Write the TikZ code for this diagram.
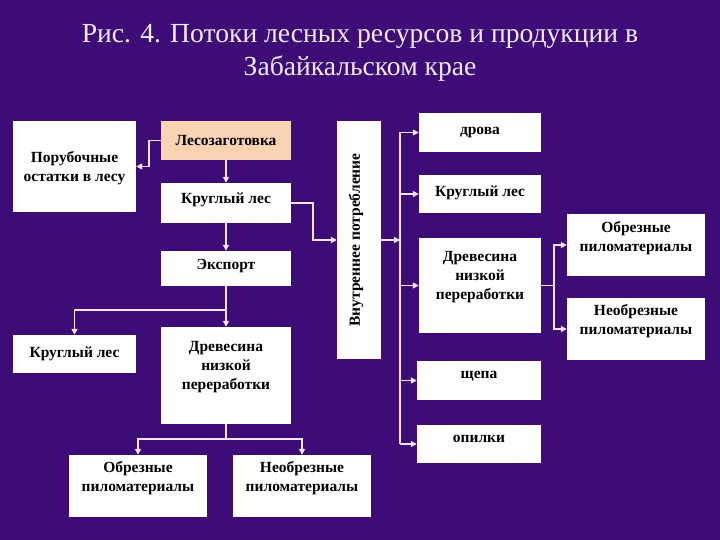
\documentclass[tikz,border=0pt]{standalone}
\usepackage{fontspec}
\setmainfont{Liberation Serif}
\usetikzlibrary{arrows.meta,calc}
\definecolor{bgpurple}{HTML}{3E0C76}
\definecolor{linec}{HTML}{F4E4F4}
\definecolor{peach}{HTML}{F9D3B4}
\definecolor{titlec}{HTML}{F2EAF8}
\tikzset{
  box/.style={rectangle, fill=white, draw=none, inner sep=0pt},
  txt/.style={align=center, font=\bfseries\fontsize{15.5}{19}\selectfont, text=black, inner sep=0pt},
  conn/.style={draw=linec, line width=1.6pt},
  arr/.style={conn, -{Triangle[length=6pt,width=6pt]}},
}
\begin{document}
\begin{tikzpicture}[x=1pt,y=-1pt]
\useasboundingbox (0,0) rectangle (720,540);
\fill[bgpurple] (0,0) rectangle (720,540);

% title
\node[text=titlec, font=\fontsize{27.6}{33}\selectfont, anchor=base] (title1) at (360,43) {Рис. 4. Потоки лесных ресурсов и продукции в};
\node[text=titlec, font=\fontsize{27.6}{33}\selectfont, anchor=base] (title2) at (360,76) {Забайкальском крае};

% boxes
\node[box, minimum width=123pt, minimum height=91pt] (por) at (74.5,166.5) {};
\node[txt] (port) at ([yshift=-2pt]por.center) {Порубочные\\остатки в лесу};

\node[box, fill=peach, minimum width=130pt, minimum height=39pt] (les) at (226,140.5) {};
\node[txt] (lest) at (les.center) {Лесозаготовка};

\node[box, minimum width=130pt, minimum height=40pt] (kl1) at (226,203) {};
\node[txt] (kl1t) at ([yshift=3pt]kl1.center) {Круглый лес};

\node[box, minimum width=130pt, minimum height=35pt] (exp) at (226,268.5) {};
\node[txt] (expt) at ([yshift=2pt]exp.center) {Экспорт};

\node[box, minimum width=44pt, minimum height=238pt] (vnut) at (359,240) {};
\node[txt, rotate=90] (vnutt) at ([xshift=-3pt]vnut.center) {Внутреннее потребление};

\node[box, minimum width=123pt, minimum height=38pt] (kl2) at (74.5,354) {};
\node[txt] (kl2t) at (kl2.center) {Круглый лес};

\node[box, minimum width=130pt, minimum height=97pt] (dr1) at (226,375.5) {};
\node[txt] (dr1t) at ([yshift=8pt]dr1.center) {Древесина\\низкой\\переработки};

\node[box, minimum width=138pt, minimum height=62pt] (obr1) at (138,486) {};
\node[txt] (obr1t) at ([yshift=8pt]obr1.center) {Обрезные\\пиломатериалы};

\node[box, minimum width=138pt, minimum height=62pt] (neobr1) at (302,486) {};
\node[txt] (neobr1t) at ([yshift=8pt]neobr1.center) {Необрезные\\пиломатериалы};

\node[box, minimum width=122pt, minimum height=39pt] (drova) at (480,132.5) {};
\node[txt] (drovat) at (drova.center) {дрова};

\node[box, minimum width=122pt, minimum height=38pt] (kl3) at (480,194) {};
\node[txt] (kl3t) at ([yshift=1pt]kl3.center) {Круглый лес};

\node[box, minimum width=122pt, minimum height=95pt] (dr2) at (480,285.5) {};
\node[txt] (dr2t) at ([yshift=8pt]dr2.center) {Древесина\\низкой\\переработки};

\node[box, minimum width=138pt, minimum height=62pt] (obr2) at (636,245) {};
\node[txt] (obr2t) at ([yshift=7pt]obr2.center) {Обрезные\\пиломатериалы};

\node[box, minimum width=138pt, minimum height=62pt] (neobr2) at (636,329) {};
\node[txt] (neobr2t) at ([yshift=8pt]neobr2.center) {Необрезные\\пиломатериалы};

\node[box, minimum width=124pt, minimum height=39pt] (shepa) at (479,380.5) {};
\node[txt] (shepat) at ([yshift=4pt]shepa.center) {щепа};

\node[box, minimum width=124pt, minimum height=38pt] (opil) at (479,444) {};
\node[txt] (opilt) at ([yshift=5pt]opil.center) {опилки};

% junction coordinates
\coordinate (j1) at (226,310);
\coordinate (j2) at (226,439);
\coordinate (tr) at (400,0);
\coordinate (j3) at (554,0);

% connectors
\draw[arr] (les.west) -- ++(-12,0) |- (por.east);
\draw[arr] (les.south) -- (kl1.north);
\draw[arr] (kl1.south) -- (exp.north);
\draw[arr] (kl1.east) -- ++(22,0) |- (vnut.west);
\draw[arr] (exp.south) -- (dr1.north);
\draw[arr] (j1) -| (kl2.north);
\draw[conn] (dr1.south) -- (j2);
\draw[arr] (j2) -| (obr1.north);
\draw[arr] (j2) -| (neobr1.north);

\draw[arr] (vnut.east) -- (tr |- vnut.east);
\draw[conn] (tr |- drova.west) -- (tr |- opil.west);
\draw[arr] (tr |- drova.west) -- (drova.west);
\draw[arr] (tr |- kl3.west) -- (kl3.west);
\draw[arr] (tr |- dr2.west) -- (dr2.west);
\draw[arr] (tr |- shepa.west) -- (shepa.west);
\draw[arr] (tr |- opil.west) -- (opil.west);

\draw[conn] (dr2.east) -- (j3 |- dr2.east);
\draw[arr] (j3 |- dr2.east) |- (obr2.west);
\draw[arr] (j3 |- dr2.east) |- (neobr2.west);
\end{tikzpicture}
\end{document}
